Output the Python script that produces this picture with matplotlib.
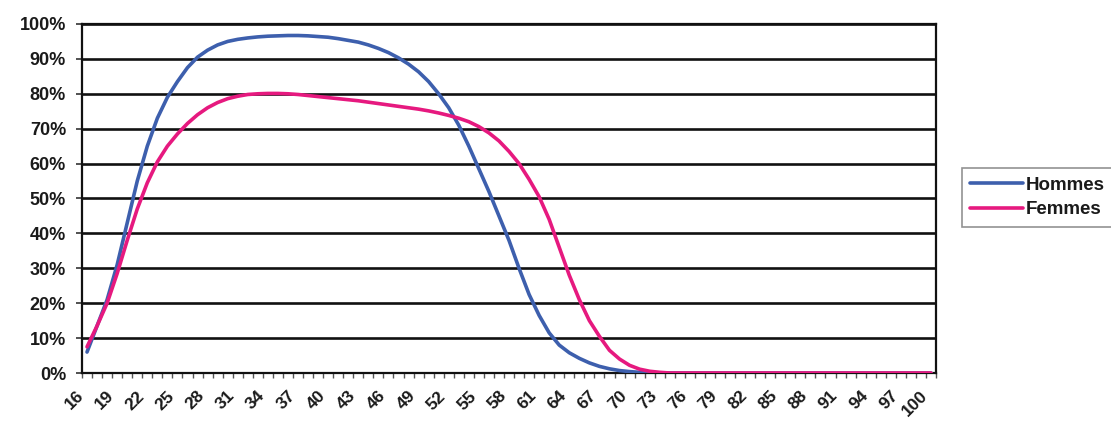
import matplotlib
matplotlib.use("Agg")
import matplotlib.pyplot as plt
from matplotlib.ticker import FixedLocator, FuncFormatter

# Ages 16..100 (one category per year)
ages = list(range(16, 101))

# Share by age (%)
hommes = [
    6, 13.5, 21, 31, 43, 55, 65, 73, 79, 83.5,             # 16-25
    87.5, 90.5, 92.5, 94, 95, 95.6, 96, 96.3, 96.5, 96.6,  # 26-35
    96.7, 96.7, 96.6, 96.4, 96.2, 95.8, 95.3, 94.8, 94, 93,  # 36-45
    91.8, 90.3, 88.5, 86.3, 83.5, 80, 76, 71, 65, 58.5,    # 46-55
    52, 45, 38, 30, 22.5, 16.5, 11.5, 8, 5.8, 4.2,         # 56-65
    2.9, 1.9, 1.2, 0.7, 0.4, 0.2, 0.1, 0, 0, 0,            # 66-75
] + [0] * 25                                              # 76-100

femmes = [
    7.5, 13.5, 20, 28.5, 38, 47, 54.5, 60.5, 65, 68.5,     # 16-25
    71.5, 74, 76, 77.5, 78.6, 79.3, 79.8, 80, 80.1, 80.1,  # 26-35
    80, 79.8, 79.5, 79.2, 78.9, 78.6, 78.3, 78, 77.6, 77.2,  # 36-45
    76.8, 76.4, 76, 75.6, 75.1, 74.5, 73.8, 73, 72, 70.6,  # 46-55
    68.8, 66.5, 63.5, 60, 55.5, 50.5, 44, 36, 28, 21,      # 56-65
    15, 10.5, 6.5, 4, 2.2, 1.1, 0.5, 0.2, 0, 0,            # 66-75
] + [0] * 25                                              # 76-100

y_ticks = list(range(0, 101, 10))
label_ages = list(range(16, 101, 3))

fig = plt.figure(figsize=(11.11, 4.23), dpi=100, facecolor="white")
ax = fig.add_axes([0.0738, 0.1182, 0.7687, 0.8251])

x = list(range(len(ages)))
ax.plot(x, hommes, color="#3d5fad", linewidth=2.6, label="Hommes", zorder=3,
        solid_capstyle="round", solid_joinstyle="round")
ax.plot(x, femmes, color="#e6197f", linewidth=2.6, label="Femmes", zorder=4,
        solid_capstyle="round", solid_joinstyle="round")

ax.set_xlim(-0.5, len(ages) - 0.5)
ax.set_ylim(0, 100)

# Y axis
ax.set_yticks(y_ticks)
ax.yaxis.set_major_formatter(FuncFormatter(lambda v, p: f"{int(v)}%"))
ax.tick_params(axis="y", direction="out", length=4.5, width=1.2, pad=7,
               labelsize=13, color="#333333")
for lab in ax.get_yticklabels():
    lab.set_fontweight("bold")
    lab.set_fontfamily("Liberation Sans")
    lab.set_color("#1a1a1a")
ax.grid(axis="y", color="#111111", linewidth=1.9, zorder=1)

# X axis: labels every 3 years, small ticks at category boundaries
idx_labels = [ages.index(a) for a in label_ages]
ax.set_xticks(idx_labels)
ax.set_xticklabels([str(a) for a in label_ages], rotation=45, ha="right",
                   fontsize=12.5, fontweight="bold", family="Liberation Sans",
                   color="#1a1a1a")
ax.tick_params(axis="x", length=0, pad=11)
ax.xaxis.set_minor_locator(FixedLocator([i - 0.5 for i in range(len(ages) + 1)]))
ax.tick_params(axis="x", which="minor", direction="out", length=3.5, width=1,
               color="#555555")

for spine in ax.spines.values():
    spine.set_color("#111111")
    spine.set_linewidth(1.6)

leg = fig.legend(loc="upper left", bbox_to_anchor=(962 / 1111, 1 - 168 / 423),
                 fontsize=13.5, frameon=True, fancybox=False, edgecolor="#777777",
                 handlelength=2.8, handletextpad=0.15, borderpad=0.45,
                 labelspacing=0.4, borderaxespad=0)
leg.get_frame().set_linewidth(1.2)
for t in leg.get_texts():
    t.set_fontfamily("Liberation Sans")
    t.set_fontweight("bold")
    t.set_color("#1a1a1a")

fig.savefig("out.png", dpi=100, facecolor="white")
